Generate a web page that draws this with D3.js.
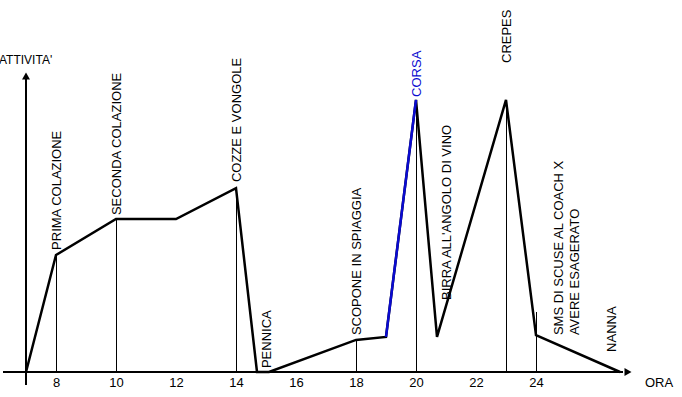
<!DOCTYPE html>
<html>
<head>
<meta charset="utf-8">
<script src="https://cdn.jsdelivr.net/npm/d3@7"></script>
<style>
  body { margin: 0; background: #fff; }
  #chart svg { display: block; }
  text { font-family: "Liberation Sans", Arial, sans-serif; }
</style>
</head>
<body>
<div id="chart"></div>
<script>
// hours of the day and the activity level at each point
let hours    = [7, 8, 10, 12, 14, 14.7, 15.1, 18, 19, 20, 20.7, 23, 24, 26.8]
let activity = [0, 39, 51, 51, 61.3, 0, 0, 10.7, 11.7, 90.7, 11.7, 90.7, 12.3, 0]
// the run (CORSA) segment drawn in blue: from index 8 to 9
let blueFrom = 8

// thin drop lines
let dropHours = [8, 10, 14, 18, 20, 23, 24]
let dropTops  = [39, 51, 61.3, 10.7, 90.7, 90.7, 20]

// event labels
let labelText = [
  ['PRIMA COLAZIONE'],
  ['SECONDA COLAZIONE'],
  ['COZZE E VONGOLE'],
  ['PENNICA'],
  ['SCOPONE IN SPIAGGIA'],
  ['CORSA'],
  ["BIRRA ALL'ANGOLO DI VINO"],
  ['CREPES'],
  ['SMS DI SCUSE AL COACH X', 'AVERE ESAGERATO'],
  ['NANNA']
]
let labelHour  = [8, 10, 14, 15, 18, 20, 21, 23, 25, 26.5]
let labelLevel = [40.7, 52.3, 63.3, 1.3, 12.3, 91.7, 24, 103, 12.3, 6.7]
let labelBlue  = [false, false, false, false, false, true, false, false, false, false]

let tickHours = [8, 10, 12, 14, 16, 18, 20, 22, 24]

function draw() {
  let width = 682, height = 397

  let svg = d3.select('#chart').append('svg')
    .attr('width', width)
    .attr('height', height)

  let x = d3.scaleLinear().domain([7, 27]).range([26, 626])
  let y = d3.scaleLinear().domain([0, 100]).range([372, 72])

  // drop lines (half pixel so they stay crisp)
  svg.selectAll('line.drop')
    .data(dropHours)
    .enter()
    .append('line')
      .attr('class', 'drop')
      .attr('x1', function(d){ return Math.round(x(d)) + 0.5 })
      .attr('x2', function(d){ return Math.round(x(d)) + 0.5 })
      .attr('y1', function(d, i){ return y(dropTops[i]) })
      .attr('y2', y(0))
      .attr('stroke', '#000')
      .attr('stroke-width', 1)
      .attr('shape-rendering', 'crispEdges')

  // axes
  svg.append('line')
    .attr('x1', 3).attr('x2', x(26.9))
    .attr('y1', y(0)).attr('y2', y(0))
    .attr('stroke', '#000').attr('stroke-width', 2)
  svg.append('path')
    .attr('d', 'M' + x(26.95) + ',' + (y(0) - 4) + 'L' + x(26.95) + ',' + (y(0) + 4) + 'L' + (x(26.95) + 7) + ',' + y(0) + 'Z')
    .attr('fill', '#000')

  svg.append('line')
    .attr('x1', x(7)).attr('x2', x(7))
    .attr('y1', 385).attr('y2', y(98))
    .attr('stroke', '#000').attr('stroke-width', 2)
  svg.append('path')
    .attr('d', 'M' + (x(7) - 4) + ',' + y(97.5) + 'L' + (x(7) + 4) + ',' + y(97.5) + 'L' + x(7) + ',' + (y(97.5) - 7) + 'Z')
    .attr('fill', '#000')

  let axis = d3.axisBottom(x)
    .tickValues(tickHours)
    .tickSize(0)
    .tickPadding(6)
  let g = svg.append('g')
    .attr('transform', 'translate(0,' + y(0) + ')')
    .call(axis)
  g.select('.domain').remove()
  g.selectAll('text')
    .attr('font-size', 13)
    .attr('font-family', '"Liberation Sans", Arial, sans-serif')
    .attr('fill', '#000')

  svg.append('text')
    .attr('x', 645).attr('y', 387)
    .attr('font-size', 13)
    .text('ORA')
  svg.append('text')
    .attr('x', -1).attr('y', 64)
    .attr('font-size', 12)
    .text("ATTIVITA'")

  // activity line
  let pts = hours.map(function(h, i){ return [x(h), y(activity[i])] })
  let line = d3.line()
  svg.append('path')
    .attr('d', line(pts))
    .attr('fill', 'none')
    .attr('stroke', '#000')
    .attr('stroke-width', 2.5)
    .attr('stroke-linejoin', 'miter')
  svg.append('path')
    .attr('d', line(pts.slice(blueFrom, blueFrom + 2)))
    .attr('fill', 'none')
    .attr('stroke', '#0a0ad0')
    .attr('stroke-width', 2.5)

  // labels, rotated
  let labels = svg.selectAll('text.lbl')
    .data(labelText)
    .enter()
    .append('text')
      .attr('class', 'lbl')
      .attr('font-size', 13)
      .attr('fill', function(d, i){ return labelBlue[i] ? '#0a0ad0' : '#000' })
      .attr('transform', function(d, i){
        let off = (d.length - 1) * 8
        return 'translate(' + (x(labelHour[i]) - off) + ',' + y(labelLevel[i]) + ') rotate(-90)'
      })
  labels.selectAll('tspan')
    .data(function(d){ return d })
    .enter()
    .append('tspan')
      .attr('x', 0)
      .attr('dy', function(d, j){ return j == 0 ? '0.35em' : 16 })
      .text(function(d){ return d })
}

draw()
</script>
</body>
</html>
